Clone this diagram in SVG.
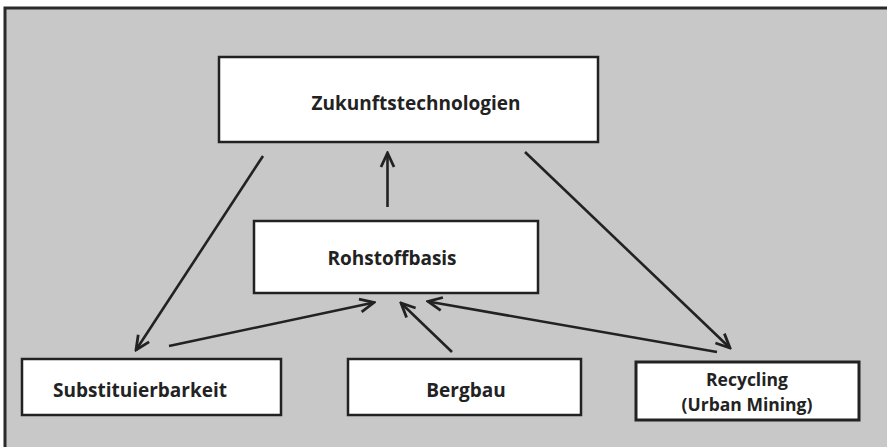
<svg xmlns="http://www.w3.org/2000/svg" width="887" height="447" viewBox="0 0 887 447">
<style>
.frame{fill:#c8c8c8;stroke:#2a2a2a;stroke-width:3}
.box{fill:#ffffff;stroke:#222222;stroke-width:2.5}
.lbl{font-family:"Open Sans","Noto Sans","Liberation Sans",sans-serif;font-weight:bold;font-size:19px;fill:#222222;text-anchor:middle}
.sm{font-size:17.5px}
.conn{stroke:#222222;stroke-width:2.6;fill:none;marker-end:url(#arr)}
</style>
<defs>
<marker id="arr" markerUnits="userSpaceOnUse" markerWidth="18" markerHeight="18" viewBox="0 0 18 18" refX="16" refY="9" orient="auto">
<path d="M2,2.5 L16,9 L2,15.5" fill="none" stroke="#222222" stroke-width="2.8" stroke-linejoin="miter"/>
</marker>
</defs>
<rect class="frame" x="5" y="8" width="900" height="460"/>
<g id="zukunft">
<rect class="box" x="219" y="57" width="379" height="85"/>
<text class="lbl" x="416" y="110">Zukunftstechnologien</text>
</g>
<g id="rohstoff">
<rect class="box" x="254" y="221" width="284" height="72"/>
<text class="lbl" x="392" y="265">Rohstoffbasis</text>
</g>
<g id="subst">
<rect class="box" x="22" y="359" width="259" height="56"/>
<text class="lbl" x="140" y="397">Substituierbarkeit</text>
</g>
<g id="bergbau">
<rect class="box" x="348" y="359" width="233" height="56"/>
<text class="lbl" x="466" y="397">Bergbau</text>
</g>
<g id="recycling">
<rect class="box" x="636" y="362" width="223" height="58" style="stroke-width:3"/>
<text class="lbl sm" x="747" y="386">Recycling</text>
<text class="lbl sm" x="747" y="410.5">(Urban Mining)</text>
</g>
<g id="connectors">
<line class="conn" x1="387.5" y1="207" x2="387.5" y2="153"/>
<line class="conn" x1="263" y1="156" x2="136" y2="350"/>
<line class="conn" x1="525" y1="152" x2="730" y2="348"/>
<line class="conn" x1="169" y1="346" x2="374" y2="302.5"/>
<line class="conn" x1="452" y1="352" x2="401" y2="303"/>
<line class="conn" x1="717" y1="352" x2="428" y2="301.5"/>
</g>
</svg>
